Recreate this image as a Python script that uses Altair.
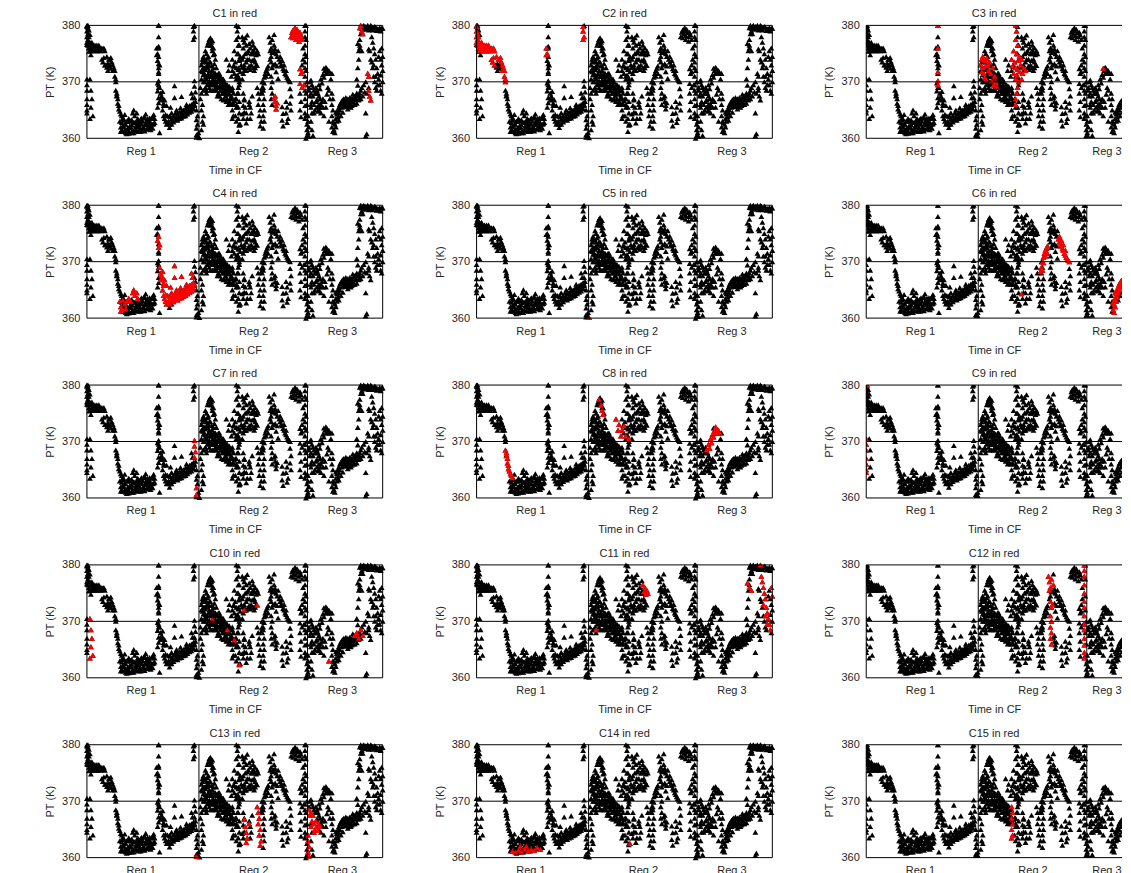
import altair as alt
import pandas as pd

# Time axis: sample index within the campaign (0-297); regions split at 112.5 and 221.5
REG_BOUNDS = [112.5, 221.5]
REG_TICKS = [54, 167, 256]
REG_LABELS = ["Reg 1", "Reg 2", "Reg 3"]
REF_LEVEL = [370]
PT_TICKS = [360, 370, 380]
PT_RANGE = [360, 380]
T_END = 297

# Points that are not highlighted in any panel (cluster 0)
PTS_C0 = [
    (0, 380), (1, 379.6), (2, 379.2), (3, 378.4), (0, 376.6), (2, 375.4), (4, 374.8),
    (19, 373.0), (20, 372.6), (21, 373.3), (22, 372.8), (23, 373.1), (21, 372.0), (24, 372.4),
    (30, 367.6), (37, 363.4), (38, 364.2),
    (37, 362.0), (39, 362.5), (41, 361.8), (43, 362.2), (45, 362.4), (47, 362.8), (49, 362.2), (50, 361.3),
    (51, 362.5), (53, 362.8), (53, 361.8), (54, 363.4), (55, 362.5), (56, 363.0), (57, 362.0), (58, 363.8),
    (59, 364.3), (59, 362.6), (60, 363.2), (61, 362.6), (62, 363.0), (63, 362.2), (64, 362.8), (65, 363.5),
    (66, 362.5), (66, 363.8), (67, 364.2), (68, 363.5), (36, 362.2), (38, 361.3), (40, 360.8), (44, 361.9),
    (46, 361.5), (52, 362.3), (56, 361.8), (60, 361.6), (62, 361.8), (65, 361.9), (67, 362.6), (42, 360.9),
    (47, 361.0), (54, 361.2), (57, 363.6),
    (35, 362.8), (41, 363), (43, 363.2), (45, 363.3), (48, 362.8), (50, 363), (52, 363.2), (55, 363.6),
    (58, 362.4), (61, 363.5), (63, 363.6), (64, 362), (66, 361.8), (68, 362.8),
    (72, 380), (72, 378.0), (72, 376.3), (72, 373.2), (72, 371.5), (71, 369.8), (72, 369.0), (71, 368.4),
    (72, 367.2), (72, 366.3), (71, 365.5), (73, 361.0),
    (85, 362.5), (83, 361.9),
    (109, 366.5), (108, 365.8), (110, 365.0), (111, 364.0), (110, 363.3), (111, 362.5), (112, 361.0),
    (112, 360.3), (108, 380),
    (114, 369.0), (115, 368.0), (114, 367.0), (116, 366.0), (115, 365.0), (117, 364.0), (116, 363.0),
    (117, 362.5), (115, 361.5),
    (115, 372), (115, 370.5), (116, 373.5), (117, 370), (117, 368.5), (118, 374), (119, 369), (120, 375),
    (120, 368), (121, 371), (122, 374.5), (122, 370), (123, 377.5), (123, 369), (124, 376.5), (124, 368.5),
    (125, 377), (125, 369.5), (126, 376), (126, 368.5), (127, 371), (128, 368.5), (129, 371.5), (130, 372.5),
    (130, 368.5), (131, 371), (131, 367.5), (132, 371.5), (132, 368), (133, 370.5), (133, 367.5), (134, 371),
    (134, 369.5), (135, 370), (135, 368.5), (135, 367), (136, 370.5), (136, 369), (137, 369.5), (137, 368),
    (138, 370), (138, 368.5), (138, 367), (139, 369), (139, 367.5), (140, 369.5), (140, 366.5), (141, 368.5),
    (141, 367), (142, 369), (142, 366), (143, 368), (143, 366.5), (144, 368.5), (144, 367), (145, 367.5),
    (145, 366), (118, 372.5), (119, 371.2), (121, 369.5), (123, 373.5), (124, 371), (126, 372), (127, 369.5),
    (128, 370), (129, 369), (131, 369), (133, 369),
    (116, 372.2), (117, 371.3), (118, 370), (119, 372.2), (120, 373.5), (121, 372.5), (122, 371.5),
    (123, 370.2), (124, 369.7), (125, 372.8), (126, 371), (127, 370.2), (128, 371.5), (129, 370.3),
    (130, 371.2), (130, 369.5), (131, 370.2), (132, 370), (132, 369), (133, 371.5), (134, 370.2), (134, 368.5),
    (135, 369.2), (136, 368), (137, 370.5), (137, 366.8), (138, 369.3), (139, 368.2), (140, 368),
    (141, 369.5), (142, 367.8), (143, 369.2), (144, 366.2), (145, 368.5), (146, 367), (147, 366.2),
    (146, 368.5),
    (119, 375.5), (121, 376.5), (122, 377), (124, 377.8), (126, 377.3), (127, 376), (128, 375), (129, 374),
    (128, 373.2),
    (152, 379.8), (152, 378), (153, 376.5), (152, 375), (153, 374), (152, 372.5), (152, 371), (153, 369.5),
    (152, 368), (153, 366.5), (152, 365.5), (153, 364.5), (152, 363.5), (153, 362.5), (152, 361.2),
    (149, 367), (150, 365.5), (149, 364), (150, 363), (157, 368), (158, 367), (157, 365.8), (158, 364.6),
    (157, 363.5),
    (156, 378), (158, 377), (157, 376), (160, 376.5), (162, 375.5), (159, 375), (164, 376), (166, 375),
    (163, 374), (160, 373.5), (165, 373), (168, 374), (167, 372.5), (162, 372.5), (169, 373.5), (158, 373),
    (161, 378.3), (166, 377.2),
    (157, 374.5), (159, 377.8), (161, 375.2), (161, 374), (163, 376.8), (163, 372.8), (165, 375), (166, 373.8),
    (167, 375.6), (168, 372), (169, 372.5), (170, 373), (164, 372.2), (159, 372), (156, 372.6), (157, 377.5),
    (163, 366.5), (164, 365.5), (165, 364.5), (164, 363.5), (166, 367.5),
    (176, 370), (177, 369), (176, 368), (178, 367), (177, 366), (178, 365), (177, 364), (178, 363), (177, 361.8),
    (184, 374), (185, 374.5), (186, 375.2), (187, 375.6), (188, 375.3), (189, 375.8), (190, 375), (191, 374.5),
    (192, 375.5), (188, 378.4), (189, 373.2), (191, 372.8), (190, 371.8), (192, 370.6),
    (200, 366.5), (201, 365.5), (200, 364.5), (202, 363.5), (201, 362.8), (204, 368.8), (205, 367.5),
    (204, 366.2), (205, 365), (196, 365.6), (197, 364.4), (196, 363.2), (197, 362.2),
    (220, 380), (220, 377.5), (220, 374.5), (220, 372), (221, 370), (220, 368), (221, 366), (220, 364),
    (221, 362.5), (221, 361.5), (221, 360.5), (220, 360), (217, 376), (217, 374), (216, 373),
    (214, 368), (215, 366.5), (214, 365), (215, 363.8), (225, 366), (226, 364.5), (225, 363), (226, 361.5),
    (227, 360.5),
    (224, 370), (226, 369.5), (228, 368.5), (230, 369), (232, 368), (234, 367), (236, 366.5), (237, 365.5),
    (235, 364.5), (231, 366.8), (233, 365), (238, 364), (245, 370.5), (246, 371.5),
    (223, 369), (225, 370.3), (227, 369), (229, 368), (231, 368), (233, 367.5), (235, 366), (237, 367),
    (239, 366.5), (240, 365.5), (241, 367.8), (242, 369), (243, 368.5), (244, 367),
    (246, 368), (247, 367), (246, 366), (247, 365), (246, 364), (247, 363), (246, 362), (247, 361.2),
    (266, 367), (267, 366.5), (268, 367.3), (269, 366.8), (270, 367), (271, 366.2), (272, 367.5), (273, 366.8),
    (274, 368), (266, 365.8), (268, 366), (262, 365.2), (264, 365.6), (257, 364.6), (255, 364), (253, 363.2),
    (259, 365.6), (261, 365.8), (263, 366.3), (265, 365.5), (267, 367.8), (269, 366), (271, 367.6),
    (273, 367.7), (275, 367),
    (272, 372.5), (273, 374), (273, 375.5), (274, 376.5), (274, 377.5), (275, 378.5), (276, 379.5),
    (271, 370.5), (272, 369.4),
    (278, 380), (280, 379.8), (282, 380), (284, 379.6), (286, 379.8), (288, 379.5), (290, 379.7), (292, 379.4),
    (294, 379.6), (296, 379.5), (279, 379.3), (283, 379.2), (287, 379.2), (291, 379.1), (295, 379.0),
    (277, 379.8), (281, 379.5), (285, 379.3), (289, 379.8), (293, 379.2), (297, 379.5),
    (283, 375.8), (284, 375.5), (285, 374), (286, 373.5), (287, 372.5), (288, 371), (289, 370), (290, 369),
    (291, 368.5), (293, 374.5), (294, 375.5), (295, 374), (296, 373), (297, 372), (281, 368), (283, 369),
    (280, 370), (296, 368), (278, 369.5), (276, 369), (279, 368.2), (297, 370), (295, 371.2),
    (280, 364.5), (281, 360.8), (280, 360.4),
]

PTS_C1 = [
    (205, 378), (206, 378.8), (207, 379.2), (208, 378.5), (209, 379), (210, 378.2), (211, 379.3), (212, 378.7),
    (213, 378), (214, 378.8), (215, 378.3), (216, 377.5), (207, 377.8), (210, 377.5), (213, 377.2), (209, 379.6),
    (214, 372.3), (215, 371.5), (216, 371.8), (214, 369.7), (216, 369), (218, 369.5),
    (188, 367.2), (189, 366.5), (190, 365.8), (191, 366.3), (190, 365.2), (189, 367.5),
    (275, 380), (276, 379), (277, 378.5), (274, 379.6),
    (282, 371.5), (283, 371), (283, 368.5), (284, 367.5), (285, 366.8),
]
PTS_C2 = [
    (0, 379.8), (0, 379), (1, 378.5), (0, 378), (1, 377.5), (0, 377),
    (1, 377), (1, 376.5), (2, 378), (2, 376), (3, 377), (3, 375.5), (4, 376.5), (4, 375.5), (5, 377), (5, 376),
    (6, 376.5), (6, 375.5), (7, 376), (8, 376.5), (8, 375.5), (9, 376), (10, 376.5), (10, 375.5), (11, 376),
    (12, 376.5), (12, 375.5), (13, 376), (14, 375.5), (15, 376), (16, 375.8), (17, 376), (18, 375.5),
    (15, 374), (16, 373.5), (17, 374.3), (18, 373), (20, 374.5), (22, 374), (24, 374.3), (25, 373.5),
    (26, 373), (27, 372.5), (28, 372), (28, 371), (29, 370.5), (29, 370), (23, 374), (26, 372),
    (70, 376), (71, 375), (70, 374.8),
    (107, 379.8), (107, 379), (108, 378), (107, 377.5),
]
PTS_C3 = [
    (72, 380), (72, 376), (72, 371.8), (72, 370.2), (72, 369.5),
    (115, 373), (116, 374), (117, 372.5), (118, 371.5), (119, 373.8), (120, 372.8), (121, 374.2), (122, 373),
    (120, 370.5), (123, 372), (124, 373.5), (125, 371.5), (126, 370.2), (127, 372.5), (128, 369.5), (129, 371),
    (130, 370), (131, 369.2), (116, 371.8), (119, 370.8), (117, 374.5),
    (150, 380), (151, 379), (150, 377.5), (152, 376.5), (148, 375.5), (151, 375), (154, 374.5), (146, 374),
    (149, 373.5), (153, 373.8), (156, 374), (147, 372.8), (150, 372.5), (152, 372.2), (155, 373), (158, 372.5),
    (148, 371.5), (151, 371.2), (154, 371.8), (157, 371.5), (160, 372), (150, 370.5), (153, 370), (156, 370.5),
    (152, 369), (151, 368), (150, 367), (150, 366),
    (238, 372.4),
]
PTS_C4 = [
    (33, 363), (34, 362), (35, 361.5), (36, 363.2), (38, 362.5), (40, 363), (42, 363.5), (44, 363),
    (46, 364.5), (47, 365), (48, 364), (50, 364.5), (51, 363.5), (34, 361.2), (39, 361.6),
    (72, 374.5), (71, 373.8), (73, 373), (72, 372.5),
    (73, 369), (74, 368), (75, 367.5), (74, 366.8), (76, 367), (77, 366.2), (76, 368.3), (78, 366.8),
    (76, 365), (77, 364), (78, 363.5), (79, 363), (80, 362.5), (81, 364), (82, 363), (83, 362.5), (84, 363.8),
    (86, 363.2), (87, 364), (88, 363.5), (89, 364.5), (90, 363.8), (91, 364.3), (92, 363.6), (93, 364.6),
    (94, 364), (95, 364.8), (96, 364.2), (97, 365), (98, 364.4), (99, 365.3), (100, 364.7), (101, 365.5),
    (102, 365), (103, 365.8), (104, 365.2), (105, 366), (106, 365.5), (107, 366.3), (108, 366),
    (88, 369.3), (88, 367.2), (95, 367.4), (105, 368), (106, 367.2), (84, 365.5), (80, 365.8), (90, 365),
    (100, 366), (85, 364.5), (94, 365.4),
    (77, 365.8), (79, 364.2), (81, 362.8), (83, 363.9), (85, 363.4), (87, 362.9), (89, 363.3), (91, 363.2),
    (93, 363.5), (95, 363.6), (97, 363.9), (99, 364), (101, 364.3), (103, 364.6), (105, 364.8), (107, 365.2),
]
PTS_C5 = [(113, 360.1)]
PTS_C6 = [
    (175, 368.2), (176, 369), (177, 370), (178, 370.8), (179, 371.5), (180, 372), (181, 372.4), (182, 372.8),
    (176, 368.8), (178, 369.8), (180, 371), (182, 371.5), (177, 368.5),
    (193, 374), (194, 373.5), (195, 373), (196, 372.8), (197, 372.3), (198, 372), (199, 371.5), (200, 371.2),
    (201, 370.8), (202, 370.5), (203, 370.2), (204, 370), (194, 374.5), (196, 373.8), (198, 373), (200, 372),
    (156, 364.3),
    (248, 361.5), (249, 362.5), (250, 363.5), (251, 364.3), (252, 365), (253, 365.5), (254, 366), (255, 366.3),
    (256, 366.6), (257, 366.8), (258, 367), (259, 366.5), (260, 367.2), (261, 366.8), (262, 367), (263, 366.5),
    (264, 367.2), (265, 366.8), (249, 361), (250, 362), (251, 363), (252, 363.8), (253, 364.5), (254, 365),
    (256, 365.5), (258, 366), (260, 366), (262, 366), (264, 366), (248, 362.8), (250, 364.6),
]
PTS_C7 = [(108, 370.2), (108, 369.2), (109, 368.2), (108, 367.2), (110, 361.8), (110, 360.6)]
PTS_C8 = [
    (30, 368), (30, 367.5), (31, 367), (31, 366.2), (32, 365.8), (32, 365.2), (33, 364.8), (34, 364.3),
    (35, 364), (36, 363.6), (29, 368.5),
    (123, 377.5), (125, 376.5), (126, 375.5), (127, 374.8), (140, 374), (143, 373), (146, 372), (150, 371),
    (153, 370.5), (148, 372.8), (142, 372), (145, 371),
    (231, 368.5), (233, 369.5), (235, 370.5), (237, 371.3), (239, 372), (241, 372.3), (243, 372), (244, 371.5),
    (236, 369.8), (238, 370.8), (240, 371.5), (242, 371.5), (234, 368.8), (240, 372.6),
]
PTS_C9 = [(1, 380), (0, 370.5), (0, 369.5), (0, 368.5), (0, 367), (0, 366), (0, 365), (0, 364.5)]
PTS_C10 = [
    (3, 370.5), (4, 368.5), (5, 367), (4, 365.5), (6, 364), (3, 363.5),
    (126, 370.3), (141, 368.5), (148, 366.7), (158, 372), (171, 372.9), (153, 362.3),
    (243, 363), (269, 367.5), (271, 368), (273, 367), (275, 368.5), (277, 367.5),
]
PTS_C11 = [
    (120, 368.5), (167, 376.5), (169, 376), (171, 375.5), (170, 374.8), (172, 375), (168, 375.2),
    (272, 376.8), (274, 376), (276, 375.5), (285, 380), (286, 378), (287, 377), (288, 376), (289, 375),
    (290, 374), (291, 372.5), (292, 371.5), (293, 370.5), (294, 369.5), (295, 368.5), (288, 373), (290, 371),
    (292, 369.5), (296, 376), (297, 374.5),
]
PTS_C12 = [
    (183, 378), (184, 377), (185, 376), (186, 377.5), (184, 375.5), (185, 373.5), (186, 372.5), (185, 371),
    (186, 370), (185, 369), (186, 368), (185, 367), (186, 366), (187, 373), (188, 376.5),
    (219, 380), (219, 379), (219, 378), (219, 376.5), (219, 375), (219, 373.5), (219, 372.5), (219, 371),
    (219, 369.5), (219, 368.5), (219, 367), (219, 365.8), (219, 364.5), (219, 363.5),
]
PTS_C13 = [
    (110, 360.2), (158, 366.8), (159, 365.5), (160, 364.5), (161, 363.5), (160, 362.7), (163, 366),
    (171, 369), (172, 368), (173, 367), (172, 366), (174, 365), (173, 364), (175, 363), (174, 362.2),
    (222, 364), (222, 363), (223, 362), (222, 361), (223, 360.3),
    (223, 368.5), (224, 367.5), (225, 368), (226, 366.5), (227, 367.5), (228, 366), (229, 365), (230, 366.5),
    (231, 365.5), (232, 364.8), (233, 366), (234, 365.5), (225, 365.5), (228, 364.5),
]
PTS_C14 = [
    (36, 361.2), (39, 361), (42, 361.3), (45, 361), (48, 361.5), (52, 361.2), (55, 361.5), (58, 361.3),
    (61, 361.8), (64, 361.5), (154, 362.5), (44, 362), (50, 362),
]
PTS_C15 = [(146, 369), (147, 368), (146, 367), (147, 366), (146, 365), (147, 364), (146, 363.5)]

CLUSTERS = [PTS_C0, PTS_C1, PTS_C2, PTS_C3, PTS_C4, PTS_C5, PTS_C6, PTS_C7, PTS_C8,
            PTS_C9, PTS_C10, PTS_C11, PTS_C12, PTS_C13, PTS_C14, PTS_C15]

rows = []
for cid, pts in enumerate(CLUSTERS):
    for t, pt in pts:
        rows.append({"t": t, "pt": pt, "cluster": cid})
df = pd.DataFrame(rows)

label_expr = " : ".join(
    f"datum.value == {v} ? '{lab}'" for v, lab in zip(REG_TICKS[:-1], REG_LABELS[:-1])
) + f" : '{REG_LABELS[-1]}'"

FONT = "Liberation Sans"
TXT = "#262626"
FULL_W = 296
LAST_W = 256  # right-hand column is cut off by the page edge
PLOT_H = 113
MSIZE = 34


def panel(k, width):
    t_max = T_END * width / FULL_W
    cut = width < FULL_W
    base = alt.Chart(df)
    axis_kw = dict(values=REG_TICKS, labelExpr=label_expr, title="Time in CF", ticks=False,
                   grid=False, domain=False, labelPadding=7, titlePadding=8)
    if cut:
        axis_kw["labelFlush"] = 12
    xenc = alt.X("t:Q", scale=alt.Scale(domain=[0, t_max], nice=False, zero=False),
                 axis=alt.Axis(**axis_kw))
    yenc = alt.Y("pt:Q", scale=alt.Scale(domain=PT_RANGE, nice=False, zero=False),
                 axis=alt.Axis(values=PT_TICKS, title="PT (K)", ticks=False, grid=False,
                               domain=False, labelPadding=7, titlePadding=6))
    black = base.mark_point(shape="triangle-up", filled=True, size=MSIZE, color="black",
                            opacity=1, clip=cut).encode(x=xenc, y=yenc)
    red = base.transform_filter(alt.datum.cluster == k).mark_point(
        shape="triangle-up", filled=True, size=MSIZE, color="#ff0000", opacity=1, clip=cut
    ).encode(x="t:Q", y="pt:Q")
    hline = alt.Chart(pd.DataFrame({"pt": REF_LEVEL + PT_RANGE})).mark_rule(
        color="black", strokeWidth=1).encode(y="pt:Q")
    vx = [0] + REG_BOUNDS + ([] if cut else [t_max])
    vline = alt.Chart(pd.DataFrame({"t": vx})).mark_rule(
        color="black", strokeWidth=1).encode(x="t:Q")
    return alt.layer(black, red, hline, vline).properties(
        width=width, height=PLOT_H,
        title=alt.TitleParams(f"C{k} in red", fontSize=11, fontWeight="normal", offset=0),
    )


grid_rows = [
    alt.hconcat(*[panel(3 * r + c + 1, FULL_W if c < 2 else LAST_W) for c in range(3)],
                spacing=47)
    for r in range(5)
]
chart = alt.vconcat(*grid_rows, spacing=11).properties(
    padding={"left": 36, "top": -1, "right": 0, "bottom": 0}
).configure_view(stroke="transparent").configure_axis(
    labelFont=FONT, titleFont=FONT, labelFontSize=11, titleFontSize=11,
    labelColor=TXT, titleColor=TXT, titleFontWeight="normal",
).configure_title(font=FONT, color=TXT, fontSize=11, fontWeight="normal")

chart.save("out.html", embed_options={"renderer": "svg", "actions": False})
